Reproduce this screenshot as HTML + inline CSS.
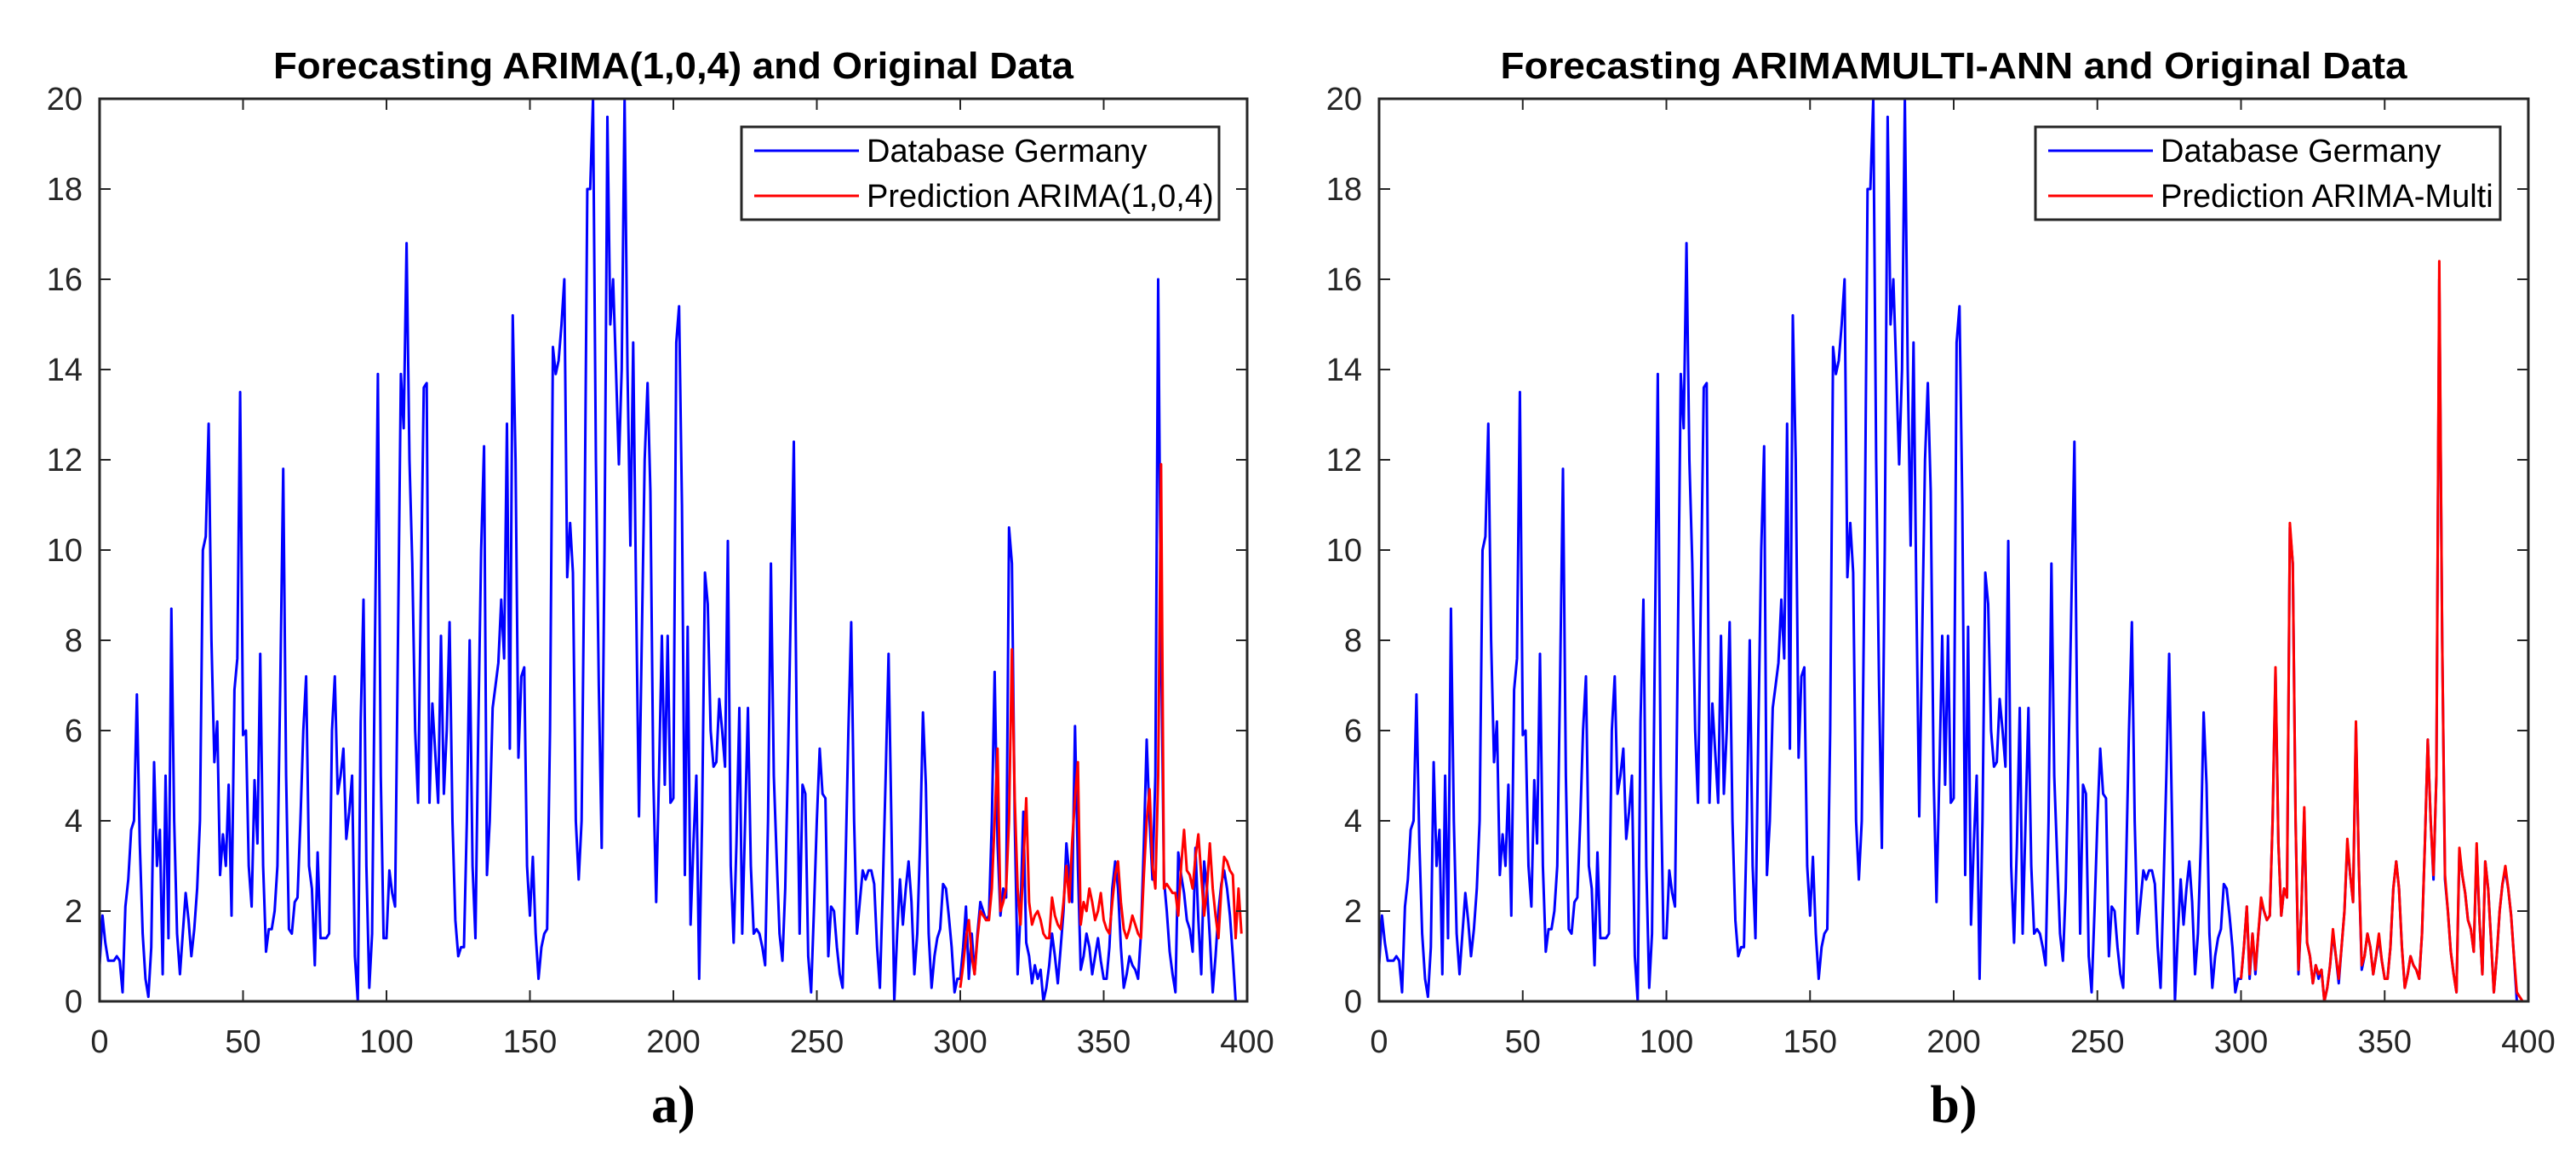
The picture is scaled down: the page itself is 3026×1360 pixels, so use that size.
<!DOCTYPE html>
<html><head><meta charset="utf-8"><style>
html,body{margin:0;padding:0;background:#fff;}
svg{display:block;}
</style></head><body>
<svg id="fig" width="3026" height="1360" viewBox="0 0 3026 1360" xmlns="http://www.w3.org/2000/svg"></svg>
<script>
const xTicks = [0,50,100,150,200,250,300,350,400];
const yTicks = [0,2,4,6,8,10,12,14,16,18,20];
const germany = [
0.8,1.9,1.3,0.9,0.9,0.9,1,0.9,0.2,2.1,
2.7,3.8,4,6.8,3.5,1.5,0.5,0.1,1.2,5.3,
3,3.8,0.6,5,1.4,8.7,4,1.5,0.6,1.5,
2.4,1.8,1,1.6,2.5,4,10,10.3,12.8,8,
5.3,6.2,2.8,3.7,3,4.8,1.9,6.9,7.6,13.5,
5.9,6,3,2.1,4.9,3.5,7.7,3,1.1,1.6,
1.6,2,3,7.1,11.8,5,1.6,1.5,2.2,2.3,
4,6,7.2,3,2.5,0.8,3.3,1.4,1.4,1.4,
1.5,6,7.2,4.6,5,5.6,3.6,4.2,5,1,
0,6.2,8.9,3,0.3,1.5,8,13.9,5,1.4,
1.4,2.9,2.4,2.1,8,13.9,12.7,16.8,12,9.7,
6,4.4,9,13.6,13.7,4.4,6.6,5.5,4.4,8.1,
4.6,6,8.4,4,1.8,1,1.2,1.2,4,8,
3,1.4,6,10,12.3,2.8,4,6.5,7,7.5,
8.9,7.6,12.8,5.6,15.2,12,5.4,7.2,7.4,3,
1.9,3.2,1.5,0.5,1.2,1.5,1.6,6,14.5,13.9,
14.2,15,16,9.4,10.6,9.5,4,2.7,4,10,
18,18,20,12,7,3.4,10,19.6,15,16,
14,11.9,14,20,14,10.1,14.6,9,4.1,8,
12,13.7,11.3,5,2.2,5,8.1,4.8,8.1,4.4,
4.5,14.6,15.4,11,2.8,8.3,1.7,3.5,5,0.5,
4,9.5,8.8,6,5.2,5.3,6.7,6,5.2,10.2,
3,1.3,3.5,6.5,1.5,4,6.5,3,1.5,1.6,
1.5,1.2,0.8,4,9.7,5,3.2,1.5,0.9,2.5,
5.5,9,12.4,6,1.5,4.8,4.6,1,0.2,2,
4,5.6,4.6,4.5,1,2.1,2,1.2,0.6,0.3,
3,6,8.4,4,1.5,2.2,2.9,2.7,2.9,2.9,
2.6,1.2,0.3,2.5,5,7.7,4,0,1.5,2.7,
1.7,2.5,3.1,2.2,0.6,1.5,3.5,6.4,4.8,1.5,
0.3,1,1.4,1.6,2.6,2.5,1.9,1.2,0.2,0.5,
0.5,1.2,2.1,0.5,1.5,0.6,1.5,2.2,2,1.8,
1.9,4,7.3,3.5,1.9,2.5,2.3,10.5,9.7,4,
0.6,2,4.2,1.3,1,0.4,0.8,0.5,0.7,0,
0.3,0.8,1.5,1,0.4,1.2,2,3.5,2.8,2.2,
6.1,3,0.7,1,1.5,1.2,0.6,1,1.4,0.9,
0.5,0.5,1.2,2.5,3.1,2.5,1.2,0.3,0.6,1,
0.8,0.7,0.5,1.5,3.5,5.8,4,2.7,5,16,
8,2.7,2,1.1,0.6,0.2,3.3,2.8,2.4,1.8,
1.6,1.1,3.4,1.8,0.6,3.1,2.5,1.4,0.2,1,
2,2.6,2.9,2.5,1.9,1,0,0,0,0];
const predStart = 300;
const predArima = [
0.3,0.8,1.4,1.8,1,0.6,1.4,2,1.9,1.8,
1.8,2.5,4,5.6,2,2.2,2.5,4,7.8,4.5,
2.5,1.7,3,4.5,2.2,1.7,1.9,2,1.8,1.5,
1.4,1.4,2.3,1.9,1.7,1.6,2.2,3,2.2,3.5,
4.5,5.3,1.7,2.2,2,2.5,2.2,1.8,2,2.4,
1.8,1.6,1.5,2.2,2.8,3.1,2.2,1.6,1.4,1.6,
1.9,1.7,1.5,1.4,2.8,4,4.7,3,2.5,5,
11.9,2.5,2.6,2.5,2.4,2.4,1.9,3,3.8,2.9,
2.8,2.5,3.2,3.7,2.8,1.9,2.5,3.5,2.5,1.9,
1.4,2.5,3.2,3.1,2.9,2.8,1.4,2.5,1.5];
const predMulti = [
0.5,1.2,2.1,0.6,1.5,0.7,1.5,2.3,2,1.8,
1.9,4,7.4,3.5,1.9,2.5,2.3,10.6,9.7,4,
0.7,2,4.3,1.3,1,0.4,0.8,0.6,0.7,0,
0.3,0.8,1.6,1,0.5,1.2,2,3.6,2.8,2.2,
6.2,3,0.8,1,1.5,1.2,0.6,1,1.5,0.9,
0.5,0.5,1.2,2.5,3.1,2.5,1.2,0.3,0.6,1,
0.8,0.7,0.5,1.5,3.5,5.8,4,2.8,5,16.4,
8,2.8,2,1.1,0.6,0.2,3.4,2.8,2.4,1.8,
1.6,1.1,3.5,1.8,0.6,3.1,2.5,1.4,0.2,1,
2,2.6,3,2.5,1.9,1,0.2,0.1,0,0];

const NS = 'http://www.w3.org/2000/svg';
const svg = document.getElementById('fig');
function mk(tag, attrs, parent){ const e=document.createElementNS(NS,tag); for(const k in attrs) e.setAttribute(k,attrs[k]); (parent||svg).appendChild(e); return e; }

const panels = [
 {x0:117,x1:1465,title:'Forecasting ARIMA(1,0,4) and Original Data',tLen:940,pred:predArima,predName:'Prediction ARIMA(1,0,4)',lx0:871,lx1:1432,label:'a)',id:'a'},
 {x0:1620,x1:2970,title:'Forecasting ARIMAMULTI-ANN and Original Data',tLen:1065,pred:predMulti,predName:'Prediction ARIMA-Multi',lx0:2391,lx1:2937,label:'b)',id:'b'}
];
const yTop=116, yBot=1176, GRAY='#262626';

panels.forEach(p=>{
  const g = mk('g',{});
  
  
  const sx = v => p.x0 + (v-0)/(400-0)*(p.x1-p.x0);
  const sy = v => yBot - (v-0)/(20-0)*(yBot-yTop);
  // clip
  const cp = mk('clipPath',{id:'clip-'+p.id},g);
  mk('rect',{x:p.x0,y:yTop-2,width:p.x1-p.x0,height:yBot-yTop+4},cp);
  // title
  const t = mk('text',{x:(p.x0+p.x1)/2,y:92,'text-anchor':'middle','font-family':'"Liberation Sans", Arial, sans-serif','font-weight':'bold','font-size':44,fill:'#000',textLength:p.tLen,lengthAdjust:'spacingAndGlyphs'},g);
  t.textContent = p.title;
  
  
  // series
  const ser = mk('g',{'clip-path':'url(#clip-'+p.id+')'},g);
  let d = germany.map((v,i)=>(i?'L':'M')+sx(i).toFixed(1)+','+sy(v).toFixed(1)).join('');
  const bl = mk('path',{d:d,fill:'none',stroke:'#0000ff','stroke-width':3,'stroke-linejoin':'round'},ser);
  
  
  d = p.pred.map((v,i)=>(i?'L':'M')+sx(predStart+i).toFixed(1)+','+sy(v).toFixed(1)).join('');
  const rl = mk('path',{d:d,fill:'none',stroke:'#ff0000','stroke-width':3,'stroke-linejoin':'round'},ser);
  
  
  // axes box
  const box = mk('rect',{x:p.x0,y:yTop,width:p.x1-p.x0,height:yBot-yTop,fill:'none',stroke:GRAY,'stroke-width':3},g);
  
  
  xTicks.forEach(v=>{
    const x=sx(v);
    mk('line',{x1:x,y1:yBot,x2:x,y2:yBot-13,stroke:GRAY,'stroke-width':2},g);
    mk('line',{x1:x,y1:yTop,x2:x,y2:yTop+13,stroke:GRAY,'stroke-width':2},g);
    const tl = mk('text',{x:x,y:1236,'text-anchor':'middle','font-family':'"Liberation Sans", Arial, sans-serif','font-size':38,fill:GRAY},g);
    tl.textContent = v;
    
    
  });
  yTicks.forEach(v=>{
    const y=sy(v);
    mk('line',{x1:p.x0,y1:y,x2:p.x0+13,y2:y,stroke:GRAY,'stroke-width':2},g);
    mk('line',{x1:p.x1,y1:y,x2:p.x1-13,y2:y,stroke:GRAY,'stroke-width':2},g);
    const tl = mk('text',{x:p.x0-20,y:y+13,'text-anchor':'end','font-family':'"Liberation Sans", Arial, sans-serif','font-size':38,fill:GRAY},g);
    tl.textContent = v;
    
    
  });
  // legend
  const lg = mk('g',{},g);
  
  
  mk('rect',{x:p.lx0,y:149,width:p.lx1-p.lx0,height:109,fill:'#fff',stroke:GRAY,'stroke-width':3},lg);
  const entries=[['Database Germany','#0000ff',177],[p.predName,'#ff0000',230]];
  entries.forEach(en=>{
    const eg = mk('g',{},lg);
    
    
    mk('line',{x1:p.lx0+15,y1:en[2],x2:p.lx0+138,y2:en[2],stroke:en[1],'stroke-width':3},eg);
    const tx = mk('text',{x:p.lx0+147,y:en[2]+13,'font-family':'"Liberation Sans", Arial, sans-serif','font-size':38,fill:'#000'},eg);
    tx.textContent = en[0];
  });
  // panel label
  const pl = mk('text',{x:(p.x0+p.x1)/2,y:1318,'text-anchor':'middle','font-family':'"Liberation Serif", "Times New Roman", serif','font-weight':'bold','font-size':62,fill:'#000'},g);
  pl.textContent = p.label;
  
  
});
</script>
</body></html>
